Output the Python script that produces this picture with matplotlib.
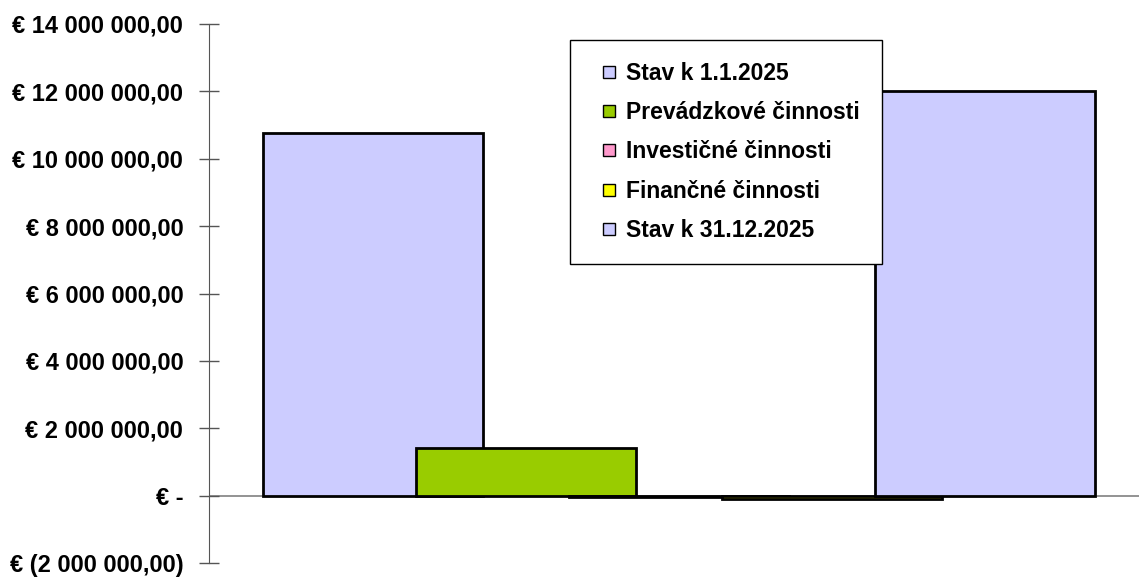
import matplotlib
matplotlib.use("Agg")
from matplotlib import pyplot as plt
from matplotlib.lines import Line2D

plt.rcParams['font.family'] = ['Liberation Sans', 'DejaVu Sans']

labels = ['Stav k 1.1.2025', 'Prevádzkové činnosti', 'Investičné činnosti',
          'Finančné činnosti', 'Stav k 31.12.2025']
values = [10750000, 1400000, -40000, -90000, 12000000]
colors = ['#CCCCFF', '#99CC00', '#FF99CC', '#FFFF00', '#CCCCFF']
yticks = [-2000000, 0, 2000000, 4000000, 6000000, 8000000, 10000000, 12000000, 14000000]


def fmt(v):
    if v == 0:
        return '€ -'
    s = f"{abs(v):,.2f}".replace(',', ' ').replace('.', ',')
    if v < 0:
        return f"€ ({s})"
    return f"€ {s}"


fig = plt.figure(figsize=(11.39, 5.77), dpi=100)
ax = fig.add_axes([209 / 1139, 14 / 577, 930 / 1139, 539 / 577])

ax.axhline(0, color='#808080', lw=1.2, zorder=1)
for i, (v, c) in enumerate(zip(values, colors)):
    ax.bar(i, v, width=1.438, color=c, edgecolor='black', linewidth=2, zorder=2 + i)

ax.set_xlim(-1.072, 5.007)
ax.set_ylim(-2000000, 14000000)
ax.set_yticks(yticks)
ax.set_yticklabels([fmt(v) for v in yticks], fontsize=17, fontweight='bold')
ax.set_xticks([])
ax.tick_params(axis='y', direction='inout', length=15, width=1, color='#555555', pad=11)
for side in ['top', 'right', 'bottom']:
    ax.spines[side].set_visible(False)
ax.spines['left'].set_color('#555555')

# square markers as legend keys, so the key can sit inside a wider handle box
handles = [Line2D([], [], ls='none', marker='s', markersize=9, markerfacecolor=c,
                  markeredgecolor='black', markeredgewidth=1) for c in colors]
leg = fig.legend(handles, labels, loc='upper left', bbox_to_anchor=(570 / 1139, 1 - 40 / 577),
                 frameon=True, fancybox=False, edgecolor='black', framealpha=1,
                 prop={'size': 16.5, 'weight': 'bold'}, handlelength=1.5,
                 handletextpad=0.0, labelspacing=0.71, borderpad=0.95, borderaxespad=0)
leg.get_frame().set_linewidth(1)
leg.set_zorder(20)

fig.savefig('out.png', dpi=100)
